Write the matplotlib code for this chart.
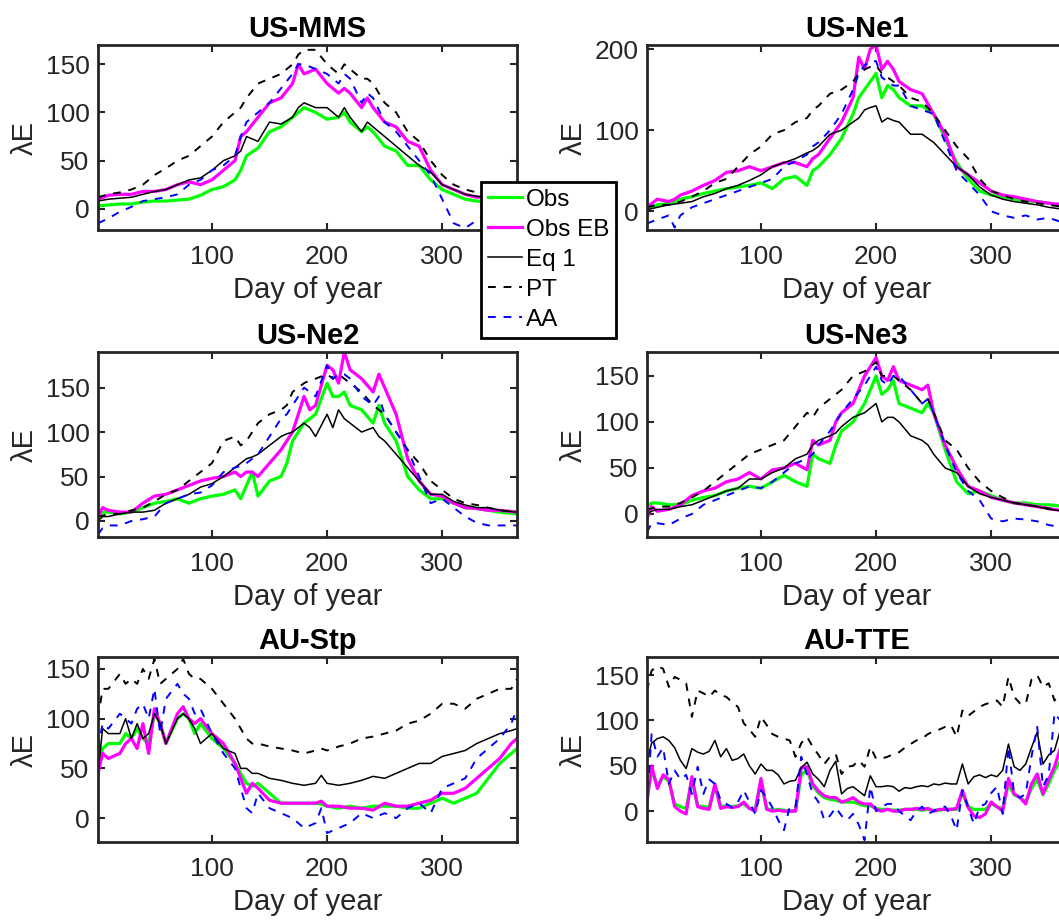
import matplotlib.pyplot as plt

plt.rcParams['font.family'] = ['Liberation Sans', 'DejaVu Sans']

# ---- US-MMS ----
MMS_DAYS = [1, 10, 20, 30, 40, 50, 60, 70, 80, 90, 100, 110, 120, 125, 130, 140, 150, 160, 170, 175,
            180, 190, 200, 210, 215, 220, 230, 235, 240, 250, 260, 270, 280, 290, 300, 310, 320, 330,
            340, 350, 365]
MMS_OBS = [3, 4, 5, 5, 7, 8, 8, 9, 10, 14, 20, 23, 30, 40, 55, 63, 80, 85, 95, 100,
           105, 100, 93, 95, 100, 90, 80, 85, 80, 65, 60, 45, 45, 30, 20, 15, 10, 8, 7, 7, 6]
MMS_EB = [10, 14, 15, 15, 18, 18, 20, 25, 28, 25, 30, 40, 50, 75, 80, 95, 110, 115, 130, 150,
          140, 145, 130, 120, 125, 120, 105, 115, 105, 90, 85, 70, 65, 40, 25, 20, 15, 12, 12, 10, 9]
MMS_EQ1 = [8, 10, 11, 12, 15, 18, 20, 25, 30, 32, 40, 50, 55, 60, 75, 70, 90, 88, 95, 105,
           110, 105, 105, 95, 105, 95, 80, 90, 85, 75, 65, 55, 45, 38, 25, 20, 15, 13, 12, 11, 10]
MMS_PT = [12, 15, 17, 20, 25, 35, 42, 50, 55, 65, 75, 90, 100, 105, 115, 130, 135, 140, 150, 160,
          165, 165, 150, 140, 150, 145, 135, 135, 130, 110, 100, 80, 70, 50, 35, 25, 20, 17, 15, 14, 12]
MMS_AA = [-15, -10, -3, 2, 8, 10, 12, 15, 25, 30, 40, 45, 55, 75, 90, 100, 110, 125, 140, 150,
          150, 145, 140, 130, 140, 135, 110, 120, 115, 90, 80, 65, 50, 35, 10, -15, -20, -12, -5, 0, 3]

# ---- US-Ne1 ----
NE1_DAYS = [1, 10, 20, 25, 30, 40, 50, 60, 70, 80, 90, 100, 110, 120, 130, 140, 145, 150, 160, 170,
            180, 185, 190, 195, 200, 205, 210, 215, 220, 230, 240, 250, 260, 270, 280, 290, 300, 310,
            320, 330, 340, 350, 365]
NE1_OBS = [3, 8, 10, 12, 15, 18, 22, 25, 28, 30, 32, 35, 28, 40, 43, 32, 50, 55, 70, 90,
           120, 140, 150, 160, 170, 140, 155, 150, 140, 130, 130, 120, 90, 60, 40, 25, 20, 18, 15, 13,
           12, 10, 5]
NE1_EB = [5, 15, 12, 15, 20, 25, 32, 38, 48, 50, 55, 50, 55, 60, 60, 55, 65, 70, 90, 110,
          140, 190, 175, 200, 205, 175, 185, 175, 160, 150, 145, 120, 95, 55, 45, 35, 25, 20, 18, 15,
          12, 10, 8]
NE1_EQ1 = [2, 5, 8, 9, 10, 12, 18, 22, 28, 32, 38, 45, 55, 60, 65, 72, 75, 80, 95, 100,
           110, 115, 125, 128, 130, 110, 115, 112, 110, 95, 95, 85, 70, 55, 45, 30, 20, 15, 12, 10,
           8, 5, 2]
NE1_PT = [5, 8, 8, 10, 12, 18, 25, 35, 40, 55, 70, 80, 95, 100, 110, 115, 125, 130, 145, 150,
          160, 170, 175, 178, 180, 170, 165, 160, 155, 140, 135, 120, 100, 80, 65, 40, 25, 20, 15, 12,
          10, 8, 5]
NE1_AA = [-15, -10, -5, -20, -5, 5, 10, 15, 20, 25, 30, 35, 40, 55, 62, 70, 80, 85, 100, 120,
          150, 170, 180, 185, 185, 165, 160, 155, 155, 130, 125, 120, 85, 50, 35, 20, 0, -5, -8, -5,
          -10, -8, -15]

# ---- US-Ne2 ----
NE2_DAYS = [1, 5, 10, 20, 30, 40, 50, 60, 70, 80, 90, 100, 110, 120, 125, 130, 135, 140, 150, 160,
            165, 170, 180, 185, 190, 200, 205, 210, 215, 220, 230, 240, 245, 250, 260, 270, 280, 290,
            300, 310, 320, 330, 340, 350, 365]
NE2_OBS = [5, 10, 10, 8, 10, 15, 20, 22, 25, 20, 25, 28, 30, 35, 25, 40, 55, 28, 45, 50,
           65, 90, 110, 115, 120, 155, 140, 140, 145, 130, 125, 110, 130, 110, 90, 50, 35, 25, 25, 20,
           15, 14, 12, 10, 8]
NE2_EB = [5, 15, 12, 10, 10, 20, 28, 30, 35, 40, 45, 48, 50, 55, 50, 55, 55, 50, 65, 80,
          90, 100, 140, 125, 130, 175, 170, 155, 190, 170, 160, 145, 165, 150, 120, 70, 45, 30, 28, 20,
          15, 14, 12, 12, 10]
NE2_EQ1 = [0, 5, 5, 8, 10, 10, 12, 20, 25, 30, 38, 42, 50, 60, 65, 70, 72, 75, 85, 95,
           98, 100, 110, 105, 95, 120, 105, 125, 115, 110, 100, 105, 95, 90, 75, 60, 45, 30, 30, 22,
           18, 15, 15, 12, 10]
NE2_PT = [5, 6, 8, 8, 12, 15, 22, 30, 35, 45, 55, 65, 90, 95, 85, 90, 100, 110, 120, 125,
          130, 145, 155, 158, 160, 165, 160, 165, 160, 155, 145, 130, 125, 120, 100, 80, 65, 45, 35, 25,
          20, 18, 15, 12, 10]
NE2_AA = [-15, -8, -5, -5, 0, 2, 5, 20, 25, 30, 32, 40, 55, 60, 62, 65, 70, 75, 95, 115,
          120, 130, 150, 145, 140, 175, 160, 165, 165, 160, 140, 130, 140, 120, 100, 80, 50, 20, 25, 15,
          5, -2, -5, -5, -5]

# ---- US-Ne3 ----
NE3_DAYS = [1, 5, 10, 20, 30, 40, 50, 60, 70, 80, 90, 100, 110, 120, 130, 140, 145, 150, 160, 165,
            170, 180, 190, 200, 205, 210, 215, 220, 230, 240, 245, 250, 260, 270, 280, 290, 300, 310,
            320, 330, 340, 350, 365]
NE3_OBS = [8, 12, 12, 10, 10, 15, 18, 20, 25, 28, 30, 28, 35, 42, 35, 30, 65, 60, 55, 75,
           90, 100, 120, 150, 130, 135, 145, 120, 115, 110, 120, 110, 70, 35, 22, 25, 20, 15, 12, 12,
           10, 10, 8]
NE3_EB = [-5, 8, 3, 5, 10, 20, 25, 28, 35, 38, 45, 38, 48, 50, 55, 48, 80, 75, 80, 100,
          110, 120, 150, 170, 150, 145, 160, 145, 140, 135, 140, 110, 75, 50, 30, 25, 18, 15, 12, 10,
          8, 6, 3]
NE3_EQ1 = [0, 3, 5, 5, 8, 10, 15, 20, 25, 28, 38, 38, 45, 50, 60, 65, 75, 80, 85, 88,
           95, 105, 110, 120, 100, 105, 105, 100, 85, 80, 75, 65, 50, 45, 30, 22, 18, 15, 12, 10,
           8, 5, 3]
NE3_PT = [5, 6, 8, 8, 12, 18, 25, 35, 45, 55, 65, 70, 75, 80, 95, 110, 105, 115, 125, 130,
          135, 150, 155, 165, 150, 150, 150, 145, 135, 120, 125, 110, 80, 70, 50, 35, 25, 18, 12, 10,
          8, 6, 3]
NE3_AA = [-20, -10, -10, -12, -5, 0, 10, 15, 20, 25, 30, 28, 35, 45, 55, 60, 65, 75, 90, 100,
          110, 125, 140, 160, 145, 140, 150, 150, 135, 120, 125, 110, 75, 45, 25, 15, -5, -8, -5, -6,
          -8, -12, -15]

# ---- AU-Stp ----
STP_DAYS = [1, 5, 10, 20, 25, 30, 35, 40, 45, 50, 55, 60, 70, 75, 80, 85, 90, 100, 110, 120,
            125, 130, 135, 140, 150, 160, 170, 180, 190, 195, 200, 210, 220, 230, 240, 250, 260, 270,
            280, 290, 300, 310, 320, 330, 340, 350, 360, 365]
STP_OBS = [50, 70, 75, 75, 85, 80, 90, 80, 75, 105, 95, 75, 100, 105, 100, 85, 95, 80, 70, 55,
           45, 35, 32, 35, 25, 15, 15, 15, 15, 14, 12, 10, 12, 10, 12, 12, 12, 10, 10, 15,
           20, 15, 20, 25, 40, 55, 65, 70]
STP_EB = [45, 65, 60, 65, 75, 80, 70, 95, 65, 110, 95, 75, 105, 112, 100, 95, 100, 85, 75, 55,
          40, 25, 35, 30, 18, 15, 15, 15, 15, 17, 12, 12, 10, 10, 8, 15, 12, 12, 15, 18,
          25, 25, 30, 40, 50, 60, 75, 80]
STP_EQ1 = [45, 90, 85, 85, 100, 80, 95, 80, 85, 105, 95, 75, 100, 105, 100, 90, 75, 85, 70, 65,
           50, 50, 45, 45, 40, 38, 35, 33, 35, 43, 35, 33, 35, 38, 42, 40, 45, 50, 55, 55,
           62, 65, 68, 75, 80, 85, 88, 90]
STP_PT = [100, 130, 130, 145, 135, 140, 135, 150, 140, 160, 135, 140, 150, 160, 145, 140, 140, 130, 115, 100,
          90, 80, 75, 75, 72, 70, 68, 65, 68, 70, 68, 72, 75, 80, 82, 85, 88, 95, 98, 105,
          115, 115, 110, 120, 125, 130, 130, 140]
STP_AA = [70, 95, 90, 105, 100, 95, 110, 115, 100, 130, 85, 120, 135, 125, 120, 105, 110, 85, 65, 50,
          30, 10, 5, 25, 10, 5, 0, -10, -5, 10, -15, -10, -5, 5, 0, 5, 0, 10, 15, 5,
          30, 35, 40, 60, 70, 80, 95, 110]

# ---- AU-TTE ----
TTE_DAYS = [1, 5, 10, 15, 20, 25, 30, 35, 40, 45, 50, 55, 60, 65, 70, 75, 80, 85, 90, 95,
            100, 105, 110, 115, 120, 125, 130, 135, 140, 145, 150, 155, 160, 165, 170, 175, 180, 185,
            190, 195, 200, 205, 210, 215, 220, 225, 230, 235, 240, 245, 250, 255, 260, 265, 270, 275,
            280, 285, 290, 295, 300, 305, 310, 315, 320, 325, 330, 335, 340, 345, 350, 355, 360, 365]
TTE_OBS = [15, 45, 28, 38, 33, 8, 5, 3, 35, 6, 5, 4, 28, 5, 6, 5, 6, 8, 3, 2,
           32, 3, 1, 2, 1, 0, 1, 40, 45, 28, 20, 15, 13, 12, 10, 10, 10, 8,
           6, 6, 3, 2, 2, 1, 1, 2, 2, 2, 1, 2, 1, 1, 2, 2, 2, 20,
           5, 2, 2, 2, 8, 5, 3, 30, 18, 15, 10, 25, 35, 18, 30, 45, 55, 55]
TTE_EB = [10, 50, 25, 40, 35, 5, 0, -3, 38, 5, 3, 2, 30, 3, 5, 4, 5, 10, 3, 0,
          36, 2, 0, 1, 0, 0, 0, 48, 49, 30, 22, 17, 15, 15, 10, 12, 15, 10,
          8, 8, 2, 0, 2, 0, 0, 2, 2, 3, 2, 3, 0, 2, 2, 2, 3, 23,
          4, -5, -7, -3, 10, 5, 0, 36, 19, 15, 8, 30, 41, 19, 35, 49, 69, 60]
TTE_EQ1 = [55, 75, 80, 82, 78, 70, 56, 47, 69, 65, 63, 66, 78, 60, 69, 56, 58, 63, 50, 41,
           52, 45, 45, 40, 30, 33, 34, 48, 54, 41, 35, 27, 45, 55, 19, 25, 27, 22,
           17, 39, 27, 27, 28, 27, 22, 26, 25, 27, 28, 27, 30, 29, 31, 30, 30, 52,
           30, 38, 40, 37, 40, 38, 45, 74, 49, 45, 52, 70, 87, 52, 62, 67, 89, 74]
TTE_PT = [133, 155, 160, 157, 137, 148, 145, 141, 104, 133, 130, 126, 133, 128, 126, 120, 115, 97, 90, 82,
          104, 95, 85, 82, 80, 78, 60, 75, 82, 71, 62, 52, 60, 63, 41, 49, 50, 56,
          49, 71, 58, 58, 60, 63, 65, 70, 74, 78, 80, 85, 88, 90, 93, 95, 82, 111,
          105, 110, 115, 118, 120, 122, 115, 148, 126, 119, 118, 145, 150, 137, 141, 122, 130, 137]
TTE_AA = [8, 85, 60, 70, 30, 45, 35, 40, 19, 49, 19, 35, 30, 12, 8, 4, 10, 23, 10, -3,
          23, 15, 4, -10, -21, 5, 4, 60, 40, 19, 10, -10, -5, 4, -5, -10, -3, -15,
          -32, 27, 0, 5, 8, 8, 0, -5, -10, 0, 5, -3, 0, 4, 5, -5, -21, 23,
          4, -14, 5, 8, 20, 27, -3, 71, 19, 15, 19, 60, 93, 27, 40, 108, 100, 80]

SITES = [
    ('US-MMS', MMS_DAYS, MMS_OBS, MMS_EB, MMS_EQ1, MMS_PT, MMS_AA),
    ('US-Ne1', NE1_DAYS, NE1_OBS, NE1_EB, NE1_EQ1, NE1_PT, NE1_AA),
    ('US-Ne2', NE2_DAYS, NE2_OBS, NE2_EB, NE2_EQ1, NE2_PT, NE2_AA),
    ('US-Ne3', NE3_DAYS, NE3_OBS, NE3_EB, NE3_EQ1, NE3_PT, NE3_AA),
    ('AU-Stp', STP_DAYS, STP_OBS, STP_EB, STP_EQ1, STP_PT, STP_AA),
    ('AU-TTE', TTE_DAYS, TTE_OBS, TTE_EB, TTE_EQ1, TTE_PT, TTE_AA),
]

# axis ranges as in the MATLAB figure (axis tight)
YLIMS = [(-22, 170), (-23, 205), (-18, 190), (-25, 176), (-24, 162), (-34, 170)]
YTICKS = [[0, 50, 100, 150], [0, 100, 200], [0, 50, 100, 150],
          [0, 50, 100, 150], [0, 50, 100, 150], [0, 50, 100, 150]]

W, H = 1059, 923
fig = plt.figure(figsize=(W / 100, H / 100), dpi=100)

col_left = [98, 647]
row_top = [45, 352, 657]
ax_w, ax_h = 419, 185
dark = '#262626'

handles = None
for i, (name, days, obs, eb, eq1, pt, aa) in enumerate(SITES):
    r, c = divmod(i, 2)
    ax = fig.add_axes([col_left[c] / W, 1 - (row_top[r] + ax_h) / H, ax_w / W, ax_h / H])

    l1, = ax.plot(days, obs, color='#00ff00', lw=2.3, label='Obs')
    l2, = ax.plot(days, eb, color='#ff00ff', lw=2.3, label='Obs EB')
    l3, = ax.plot(days, eq1, color='black', lw=1.1, label='Eq 1')
    l4, = ax.plot(days, pt, color='black', lw=1.4, ls=(0, (4, 4)), label='PT')
    l5, = ax.plot(days, aa, color='#0000ff', lw=1.4, ls=(0, (4, 4)), label='AA')
    if handles is None:
        handles = [l1, l2, l3, l4, l5]

    ax.set_xlim(1, 365)
    ax.set_ylim(*YLIMS[i])
    ax.set_xticks([100, 200, 300])
    ax.set_yticks(YTICKS[i])
    ax.tick_params(direction='in', top=True, right=True, length=5, width=1.5,
                   labelsize=19, colors=dark, pad=6)
    ax.tick_params(axis='x', pad=11)
    for sp in ax.spines.values():
        sp.set_linewidth(2)
        sp.set_color(dark)

    ax.set_xlabel('Day of year', fontsize=21, color=dark, labelpad=5)
    ax.set_ylabel('λE', fontsize=21, color=dark, labelpad=5)
    ax.set_title(name, fontsize=21, fontweight='bold', pad=6)

leg = fig.legend(handles, [h.get_label() for h in handles], loc='upper left',
                 bbox_to_anchor=(481 / W, 1 - 182 / H), fontsize=17.5, frameon=True,
                 fancybox=False, edgecolor='black', framealpha=1, handlelength=1.4,
                 handletextpad=0.16, labelspacing=0.33, borderpad=0.28, borderaxespad=0)
leg.get_frame().set_linewidth(2)

fig.savefig('out.png', dpi=100)
